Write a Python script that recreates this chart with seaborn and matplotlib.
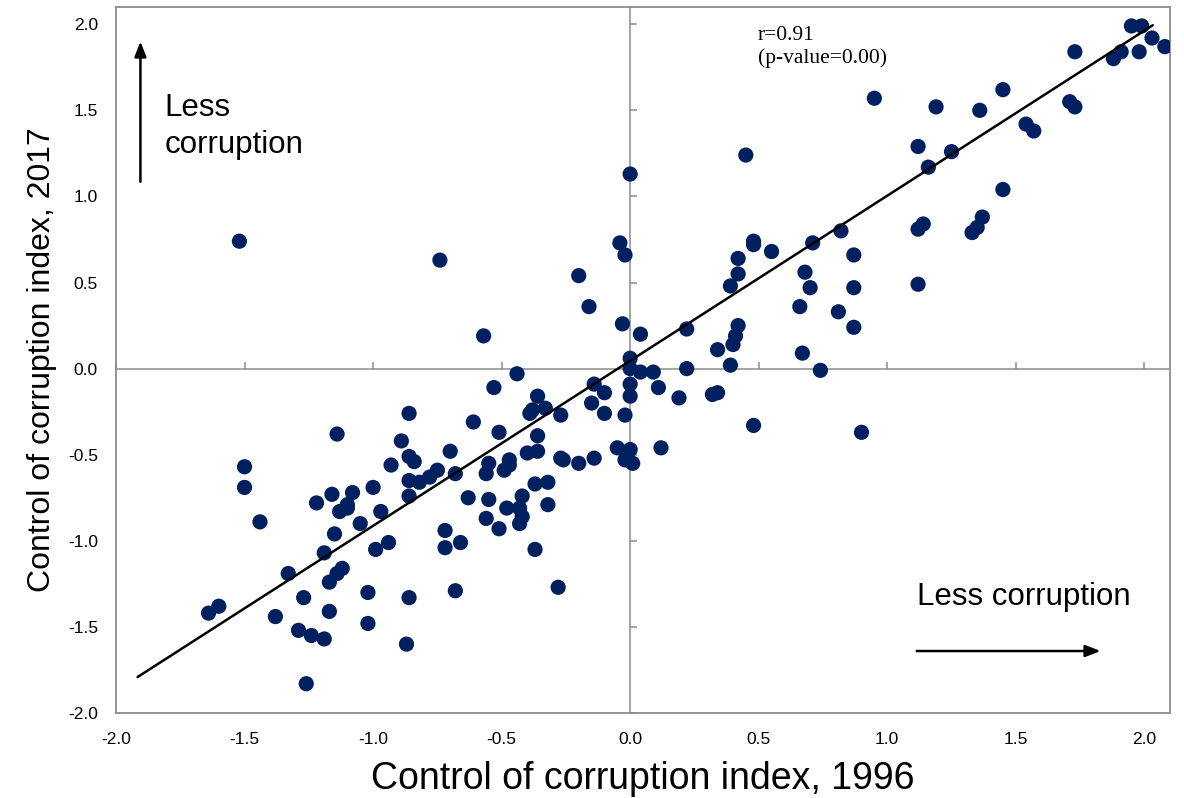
import numpy as np
import pandas as pd
import matplotlib
matplotlib.use("Agg")
import matplotlib.pyplot as plt
import seaborn as sns

# ---- data ----
cci_1996 = [
    1.95, 1.99, 2.03, 2.08, 1.98, 1.91, 1.88, 1.73, 1.71, 1.73,
    1.54, 1.57, 1.45, 1.36, 1.19, 1.12, 1.25, 1.16, 1.45, 1.14,
    1.12, 1.37, 1.35, 1.33, 1.12, 0.95, 0.45, 0.00, -0.04, -0.02,
    0.48, 0.48, 0.55, 0.71, 0.82, 0.42, 0.87, 0.68, 0.70, 0.87,
    0.66, 0.81, 0.87, 0.67, 0.74, 0.48, 0.90, 0.42, 0.39, 0.42,
    0.41, 0.40, 0.34, 0.39, 0.22, 0.22, 0.32, 0.34, 0.19, 0.11,
    0.12, -1.52, -0.74, -0.20, -0.16, -0.03, 0.04, -0.57, 0.00, 0.00,
    0.04, 0.09, -0.44, -0.53, 0.00, 0.00, -0.14, -0.10, -0.15, -0.10,
    -0.02, -0.27, -0.36, -0.38, -0.39, -0.33, -0.86, -0.61, -0.51, -0.89,
    -0.86, -0.84, -0.93, -0.70, -0.75, -0.78, -0.82, -0.86, -0.86, -0.68,
    -0.97, -0.63, -0.55, -0.56, -0.55, -0.47, -0.47, -0.49, -0.40, -0.36,
    -0.36, -0.27, -0.26, -0.20, -0.14, -0.05, 0.00, -0.02, 0.01, -0.37,
    -0.32, -0.32, -0.42, -0.43, -0.48, -0.42, -0.43, -0.56, -0.51, -0.72,
    -0.66, -0.72, -0.37, -0.94, -1.14, -1.50, -1.50, -1.44, -1.00, -1.08,
    -1.16, -1.22, -1.10, -1.10, -1.13, -1.05, -1.15, -0.99, -1.19, -1.12,
    -1.14, -1.33, -1.17, -1.02, -1.27, -0.86, -0.68, -0.28, -1.60, -1.64,
    -1.38, -1.17, -1.29, -1.24, -1.19, -1.02, -0.87, -1.26,
]
cci_2017 = [
    1.99, 1.99, 1.92, 1.87, 1.84, 1.84, 1.80, 1.84, 1.55, 1.52,
    1.42, 1.38, 1.62, 1.50, 1.52, 1.29, 1.26, 1.17, 1.04, 0.84,
    0.81, 0.88, 0.82, 0.79, 0.49, 1.57, 1.24, 1.13, 0.73, 0.66,
    0.74, 0.72, 0.68, 0.73, 0.80, 0.64, 0.66, 0.56, 0.47, 0.47,
    0.36, 0.33, 0.24, 0.09, -0.01, -0.33, -0.37, 0.55, 0.48, 0.25,
    0.19, 0.14, 0.11, 0.02, 0.23, 0.00, -0.15, -0.14, -0.17, -0.11,
    -0.46, 0.74, 0.63, 0.54, 0.36, 0.26, 0.20, 0.19, 0.06, 0.00,
    -0.02, -0.02, -0.03, -0.11, -0.09, -0.16, -0.09, -0.14, -0.20, -0.26,
    -0.27, -0.27, -0.16, -0.24, -0.26, -0.23, -0.26, -0.31, -0.37, -0.42,
    -0.51, -0.54, -0.56, -0.48, -0.59, -0.63, -0.66, -0.65, -0.74, -0.61,
    -0.83, -0.75, -0.76, -0.61, -0.55, -0.53, -0.56, -0.59, -0.49, -0.48,
    -0.39, -0.52, -0.53, -0.55, -0.52, -0.46, -0.47, -0.53, -0.55, -0.67,
    -0.66, -0.79, -0.74, -0.81, -0.81, -0.86, -0.90, -0.87, -0.93, -0.94,
    -1.01, -1.04, -1.05, -1.01, -0.38, -0.57, -0.69, -0.89, -0.69, -0.72,
    -0.73, -0.78, -0.79, -0.81, -0.83, -0.90, -0.96, -1.05, -1.07, -1.16,
    -1.19, -1.19, -1.24, -1.30, -1.33, -1.33, -1.29, -1.27, -1.38, -1.42,
    -1.44, -1.41, -1.52, -1.55, -1.57, -1.48, -1.60, -1.83,
]
tick_values = [-2.0, -1.5, -1.0, -0.5, 0.0, 0.5, 1.0, 1.5, 2.0]
x_label = "Control of corruption index, 1996"
y_label = "Control of corruption index, 2017"
annot_text = "Less corruption"
stats_text = "r=0.91\n(p-value=0.00)"
# trend line as drawn in the reference
fit_slope = 0.9585
fit_intercept = 0.0455
fit_x_range = [-1.916, 2.033]

df = pd.DataFrame({"x": cci_1996, "y": cci_2017})

sns.set_style("white")
plt.rcParams["font.family"] = ["Liberation Sans", "DejaVu Sans"]
plt.rcParams["text.color"] = "black"
plt.rcParams["axes.labelcolor"] = "black"
plt.rcParams["xtick.color"] = "black"
plt.rcParams["ytick.color"] = "black"

W, H = 1184, 798
fig = plt.figure(figsize=(W / 100, H / 100), dpi=100)
ax = fig.add_axes([116 / W, 1 - 713 / H, (1170 - 116) / W, (713 - 7) / H])

GREY = "#8c8c8c"
NAVY = "#002060"

# zero lines
ax.axhline(0, color=GREY, lw=1.1, zorder=1)
ax.axvline(0, color=GREY, lw=1.1, zorder=1)
# tick marks drawn on the zero lines (Excel style)
ax.plot([0] * len(tick_values), tick_values, ls="none", marker=1,
        ms=5, mew=1.1, color=GREY, zorder=1, clip_on=False)
ax.plot(tick_values, [0] * len(tick_values), ls="none", marker=2,
        ms=5, mew=1.1, color=GREY, zorder=1, clip_on=False)

sns.scatterplot(data=df, x="x", y="y", ax=ax, s=120, color=NAVY,
                edgecolor="none", linewidth=0, zorder=3, legend=False)

# trend line
fx = np.array(fit_x_range)
ax.plot(fx, fit_slope * fx + fit_intercept, color="black", lw=1.8, zorder=4)

ax.set_xlim(-2.0, 2.1)
ax.set_ylim(-2.0, 2.1)
ax.set_xticks(tick_values)
ax.set_yticks(tick_values)
ax.set_xticklabels([f"{v:.1f}" for v in tick_values])
ax.set_yticklabels([f"{v:.1f}" for v in tick_values])
ax.tick_params(axis="x", length=0, pad=14, labelsize=12.5, labelcolor="black")
ax.tick_params(axis="y", length=0, pad=13, labelsize=12.5, labelcolor="black")

for sp in ax.spines.values():
    sp.set_visible(True)
    sp.set_color(GREY)
    sp.set_linewidth(1.3)

ax.set_xlabel(x_label, fontsize=27, labelpad=10)
ax.set_ylabel(y_label, fontsize=23, labelpad=8)

# annotations
ax.annotate("", xy=(-1.905, 1.90), xytext=(-1.905, 1.085),
            arrowprops=dict(arrowstyle="-|>,head_length=0.9,head_width=0.35",
                            color="black", lw=1.8, shrinkA=0, shrinkB=0))
ax.text(-1.81, 1.60, "Less\ncorruption", fontsize=22.5, va="top", ha="left",
        linespacing=1.3)
ax.annotate("", xy=(1.83, -1.64), xytext=(1.115, -1.64),
            arrowprops=dict(arrowstyle="-|>,head_length=0.9,head_width=0.35",
                            color="black", lw=1.8, shrinkA=0, shrinkB=0))
ax.text(1.115, -1.375, annot_text, fontsize=22.5, va="baseline", ha="left")
ax.text(0.497, 1.99, stats_text, fontsize=15.5, va="top", ha="left",
        family=["Liberation Serif", "DejaVu Serif"], linespacing=1.25)

fig.savefig("out.png", dpi=100)
